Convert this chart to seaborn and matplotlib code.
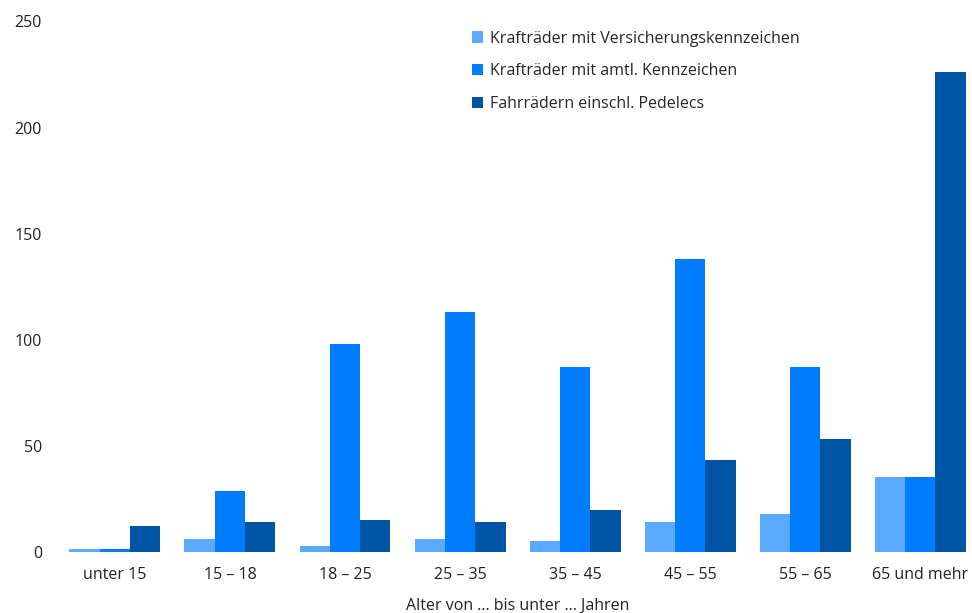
import pandas as pd
import seaborn as sns
import matplotlib.pyplot as plt

# =============================================================================
# DATA
# =============================================================================
age_groups = ["unter 15", "15 – 18", "18 – 25", "25 – 35", "35 – 45",
              "45 – 55", "55 – 65", "65 und mehr"]
series_names = [
    "Krafträder mit Versicherungskennzeichen",
    "Krafträder mit amtl. Kennzeichen",
    "Fahrrädern einschl. Pedelecs",
]
versicherung = [1.5, 6, 2.5, 6, 5, 14, 18, 35]
amtlich = [1.5, 28.5, 98, 113, 87, 138, 87, 35]
fahrrad = [12, 14, 15, 14, 19.5, 43, 53, 226]
y_ticks = [0, 50, 100, 150, 200, 250]

colors = ["#5aabff", "#007cff", "#0054a6"]

# =============================================================================
# PLOT
# =============================================================================
df = pd.DataFrame({
    "Alter": age_groups * 3,
    "Wert": versicherung + amtlich + fahrrad,
    "Serie": [s for s in series_names for _ in age_groups],
})

sns.set_style("white")
plt.rcParams["font.family"] = ["Open Sans", "DejaVu Sans"]

fig, ax = plt.subplots(figsize=(9.72, 6.13), dpi=100)
sns.barplot(
    data=df,
    x="Alter",
    y="Wert",
    hue="Serie",
    hue_order=series_names,
    order=age_groups,
    palette=colors,
    width=0.79,
    saturation=1,
    errorbar=None,
    linewidth=0,
    edgecolor="none",
    ax=ax,
)

ax.set_ylim(0, 250)
ax.set_xlim(-0.5, 7.5)
ax.set_yticks(y_ticks)
ax.tick_params(axis="both", length=0, labelsize=11.5, colors="#222222")
ax.tick_params(axis="x", pad=11)
ax.tick_params(axis="y", pad=11)
ax.set_xlabel("Alter von ... bis unter ... Jahren", fontsize=11.5,
              color="#222222", labelpad=11)
ax.set_ylabel("")
sns.despine(ax=ax, left=True, bottom=True)

ax.legend(
    loc="upper left",
    bbox_to_anchor=(0.435, 1.01),
    frameon=False,
    fontsize=11.5,
    handlelength=0.7,
    handleheight=0.7,
    handletextpad=0.4,
    labelspacing=1.05,
)

plt.subplots_adjust(left=0.059, right=1.006, top=0.965, bottom=0.1)
plt.savefig("out.png")
plt.close()
